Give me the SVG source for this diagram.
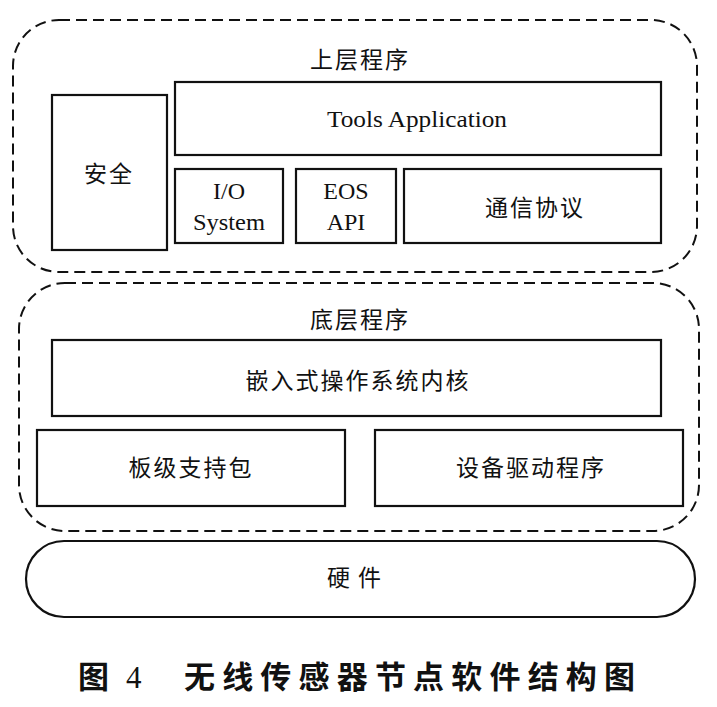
<svg xmlns="http://www.w3.org/2000/svg" width="717" height="707" viewBox="0 0 717 707">
<style>
.box{fill:none;stroke:#111;stroke-width:2.2}
.dash{fill:none;stroke:#111;stroke-width:2;stroke-dasharray:11 6}
.cjk{font-family:"Liberation Serif","Noto Sans CJK SC",serif;font-size:23px;fill:#111;text-anchor:middle;letter-spacing:2px}
.en{font-family:"Liberation Serif",serif;font-size:24px;fill:#111;text-anchor:middle}
.cap{font-family:"Noto Sans CJK SC",sans-serif;font-size:31px;font-weight:bold;fill:#111}
</style>
<rect width="717" height="707" fill="#fff"/>
<g id="upper">
<rect class="dash" x="13" y="20" width="684" height="252" rx="46" ry="46"/>
<text class="cjk" x="360" y="68">上层程序</text>
</g>
<g id="security"><rect class="box" x="52" y="95" width="115" height="155"/><text class="cjk" x="109" y="182">安全</text></g>
<g id="tools"><rect class="box" x="175" y="82" width="486" height="73"/><text class="en" x="417" y="127" textLength="180" lengthAdjust="spacingAndGlyphs">Tools Application</text></g>
<g id="io"><rect class="box" x="175" y="169" width="108" height="74"/><text class="en" x="229" y="199">I/O</text><text class="en" x="229" y="230" textLength="72" lengthAdjust="spacingAndGlyphs">System</text></g>
<g id="eos"><rect class="box" x="296" y="169" width="100" height="74"/><text class="en" x="346" y="199">EOS</text><text class="en" x="346" y="230">API</text></g>
<g id="comm"><rect class="box" x="404" y="169" width="257" height="74"/><text class="cjk" x="535" y="216">通信协议</text></g>
<g id="lower">
<rect class="dash" x="19" y="283" width="680" height="248" rx="46" ry="46"/>
<text class="cjk" x="360" y="328">底层程序</text>
</g>
<g id="kernel"><rect class="box" x="52" y="340" width="609" height="76"/><text class="cjk" x="358" y="389">嵌入式操作系统内核</text></g>
<g id="bsp"><rect class="box" x="37" y="430" width="308" height="76"/><text class="cjk" x="191" y="476">板级支持包</text></g>
<g id="driver"><rect class="box" x="375" y="430" width="308" height="76"/><text class="cjk" x="531" y="476">设备驱动程序</text></g>
<g id="hardware"><rect class="box" x="26" y="541" width="669" height="76" rx="38" ry="38"/><text class="cjk" x="358" y="586" style="letter-spacing:8px">硬件</text></g>
<g id="connectors"></g>
<g id="caption">
<text class="cap" x="78" y="688">图</text>
<text class="cap" x="126" y="688" style="font-family:'Liberation Serif',serif;font-weight:normal">4</text>
<text class="cap" x="184" y="688" textLength="451" lengthAdjust="spacing">无线传感器节点软件结构图</text>
</g>
</svg>
